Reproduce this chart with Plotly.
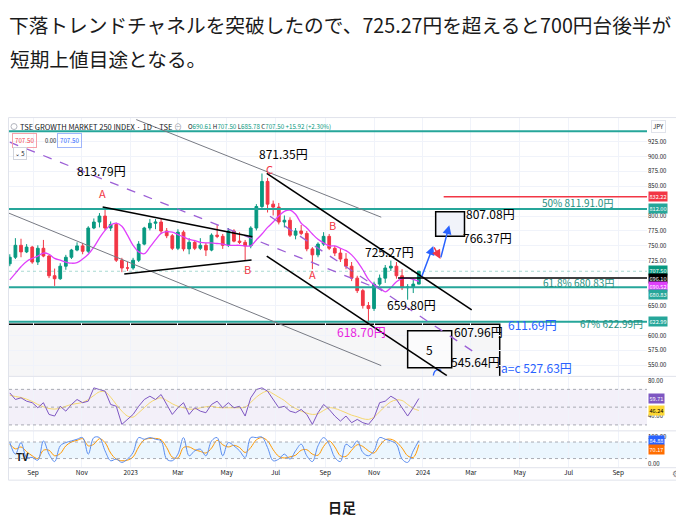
import pandas as pd
import plotly.graph_objects as go

# ---- データ (週足に要約した値) ----
dates = pd.date_range("2022-08-03", periods=74, freq="7D")

o = [720, 731, 751, 740, 748, 723, 746, 733, 700, 695, 716, 731, 743, 750, 741, 780, 790, 800, 780, 786,
     726, 713, 713, 726, 753, 780, 788, 790, 775, 767, 746, 773, 745, 756, 746, 751, 743, 768, 766, 751,
     775, 758, 756, 750, 780, 816, 858, 820, 815, 790, 793, 768, 775, 771, 745, 735, 753, 766, 746, 738,
     728, 716, 696, 675, 650, 645, 686, 696, 713, 716, 700, 680, 681, 686]
h = [736, 763, 762, 753, 750, 751, 760, 735, 712, 721, 735, 745, 756, 755, 783, 796, 805, 814, 791, 789,
     730, 723, 730, 758, 782, 795, 795, 795, 780, 770, 778, 776, 763, 760, 763, 755, 771, 785, 770, 780,
     778, 773, 760, 783, 820, 871.35, 864, 826, 822, 801, 798, 780, 785, 775, 748, 756, 773, 770, 750, 746,
     738, 723, 700, 678, 656, 690, 702, 718, 725.27, 723, 711, 686, 695, 707.5]
l = [716, 728, 731, 738, 720, 718, 731, 696, 683, 693, 710, 728, 741, 736, 738, 778, 781, 776, 775, 723,
     706, 708, 710, 723, 751, 776, 778, 770, 763, 743, 743, 741, 736, 743, 743, 733, 741, 763, 745, 748,
     756, 753, 725, 746, 776, 812, 806, 801, 786, 781, 765, 761, 768, 741, 711, 731, 750, 743, 733, 723,
     711, 691, 671, 645, 618.7, 641, 683, 688, 708, 695, 676, 659.8, 671, 685.78]
c = [731, 751, 740, 748, 723, 746, 733, 700, 695, 716, 731, 743, 750, 741, 780, 790, 800, 780, 786, 726,
     713, 713, 726, 753, 780, 788, 790, 775, 767, 746, 773, 745, 756, 746, 751, 743, 768, 766, 751, 775,
     758, 756, 750, 780, 816, 858, 820, 815, 790, 793, 768, 775, 771, 745, 735, 753, 766, 746, 738, 728,
     716, 696, 675, 650, 645, 686, 696, 713, 716, 700, 680, 681, 686, 707.5]

ma = [693, 704, 715, 724, 729, 733, 738, 736, 729, 726, 723, 721, 722, 728, 736, 748, 763, 776, 785, 788,
      783, 768, 751, 740, 737, 748, 760, 771, 774, 773, 769, 765, 761, 759, 756, 755, 755, 754, 753, 751,
      751, 751, 750, 750, 760, 770, 781, 790, 800, 808, 810, 803, 788, 780, 770, 761, 755, 750, 750, 746,
      742, 735, 724, 710, 694, 685, 680, 673, 680, 690, 695, 696, 694, 690.52]

rsi = [66, 58.6, 60.5, 56.7, 55, 49.3, 55, 41.8, 40, 51, 45.5, 53, 58.6, 55, 56.7, 71.7, 69.8, 68, 53, 51,
       30.6, 36.2, 41.8, 51, 58.6, 62.3, 58.6, 64.2, 53, 41.8, 49.3, 55, 41.8, 49.3, 45.5, 43.7, 53, 56.7,
       49.3, 55, 49.3, 51, 40, 60.5, 69.8, 71.7, 68, 58.6, 49.3, 51, 45.5, 43.7, 47.4, 41.8, 30.6, 43.7,
       53, 47.4, 40, 34.3, 40, 32.5, 36.2, 32.5, 30.6, 38.1, 55, 56.7, 62.3, 58.6, 49.3, 40, 49.3, 59.71]
rsi_ma = [63.4, 62, 60.9, 59, 56.4, 53, 50.4, 48.5, 47.8, 48.9, 51, 53, 54.1, 55.3, 58.6, 63.1, 67.2, 67.2,
          61.2, 53, 45.5, 40, 38.8, 43.7, 49.3, 55, 58.6, 60.5, 57.5, 53.8, 51, 49.3, 47.8, 47.8, 49.3, 50.4,
          51, 49.7, 49.3, 49.3, 49.3, 49.3, 50, 55.3, 61.2, 65.7, 68, 65, 61.2, 57.5, 52.2, 48.5, 45.5, 43.3,
          41.8, 42.6, 46.3, 49.3, 48.5, 46.3, 43.7, 41, 39.2, 37, 36.2, 38.8, 44.8, 51, 56, 58.2, 57.5, 53,
          48.5, 46.24]

stoch_k = [78, 36, 78, 24, 24, 14, 84, 36, 9, 66, 78, 84, 90, 96, 36, 96, 96, 48, 12, 18, 6, 18, 42, 96, 90,
           96, 90, 84, 18, 12, 36, 96, 30, 48, 54, 30, 84, 96, 30, 78, 66, 48, 24, 96, 96, 98, 60, 12, 18, 36,
           18, 48, 72, 30, 9, 66, 96, 72, 24, 9, 72, 60, 84, 42, 30, 48, 96, 90, 84, 72, 18, 6, 48, 84.88]
stoch_d = [72, 55, 62, 45, 30, 20, 50, 50, 30, 38, 66, 80, 86, 92, 66, 72, 92, 78, 40, 18, 12, 14, 26, 62, 88,
           93, 93, 88, 60, 25, 22, 60, 62, 52, 46, 40, 58, 86, 70, 62, 68, 60, 42, 60, 88, 96, 84, 52, 28, 22,
           26, 32, 50, 52, 36, 32, 64, 84, 62, 30, 28, 50, 70, 64, 48, 40, 66, 88, 90, 80, 58, 30, 24, 70.17]

# 水平線 (価格)
teal_levels = [942, 812, 680.83, 622.99]
last_price = 707.5

# 描画ライン (始点日付, 始点価格, 終点日付, 終点価格)
black_lines = [("2023-06-20", 871.6, "2024-03-02", 642.9),
               ("2023-06-20", 733.0, "2024-01-31", 532.7),
               ("2022-11-27", 815.3, "2023-06-02", 765.2),
               ("2022-12-24", 703.0, "2023-06-01", 726.4)]
grey_lines = [("2023-01-08", 961.7, "2023-11-10", 798.1),
              ("2022-08-02", 804.8, "2023-11-10", 549.4)]
dash_lines = [("2022-08-03", 923.8, "2023-11-05", 678.8),
              ("2023-06-24", 799.8, "2024-03-06", 571.1)]

arrow_x = ["2023-12-30", "2024-01-14", "2024-01-23", "2024-02-03"]
arrow_y = [696.7, 750, 728.2, 784.8]
arc_x = ["2024-01-14", "2024-01-16", "2024-01-21", "2024-01-24"]
arc_y = [532.7, 539.9, 542.7, 541]

month_ticks = ["2022-09-01", "2022-11-01", "2023-01-01", "2023-03-01", "2023-05-01", "2023-07-01",
               "2023-09-01", "2023-11-01", "2024-01-01", "2024-03-01", "2024-05-01", "2024-07-01",
               "2024-09-01"]
month_text = ["Sep", "Nov", "2023", "Mar", "May", "Jul", "Sep", "Nov", "2024", "Mar", "May", "Jul", "Sep"]
price_ticks = [550, 575, 600, 650, 725, 750, 775, 800, 850, 875, 900, 925]

GREEN = "#089981"
RED = "#f23645"
TEAL = "#26a69a"
BLUE = "#2962ff"
PURPLE = "#9c5fd6"
FONT = "Noto Sans CJK JP, Noto Sans, sans-serif"
# ページの余白 8px を差し引いた図のサイズ
OFF = 8
W, H = 684 - OFF, 521 - OFF


def py(p):
    # ページ上のピクセル(上から) -> paper座標
    return 1 - (p - OFF) / H


def px(p):
    return (p - OFF) / W


fig = go.Figure()
fig.add_trace(go.Candlestick(
    x=dates, open=o, high=h, low=l, close=c,
    increasing=dict(line=dict(color=GREEN, width=1), fillcolor=GREEN),
    decreasing=dict(line=dict(color=RED, width=1), fillcolor=RED),
    whiskerwidth=0, showlegend=False, xaxis="x", yaxis="y"))
fig.add_trace(go.Scatter(x=dates, y=ma, mode="lines", line=dict(color="#e040fb", width=1.3, shape="spline"),
                         showlegend=False, xaxis="x", yaxis="y"))
fig.add_trace(go.Scatter(x=arc_x, y=arc_y, mode="lines", line=dict(color=BLUE, width=1.3, shape="spline"),
                         showlegend=False, xaxis="x", yaxis="y"))
fig.add_trace(go.Scatter(x=dates, y=rsi_ma, mode="lines", line=dict(color="#f5d76e", width=1, shape="spline"),
                         showlegend=False, xaxis="x", yaxis="y2"))
fig.add_trace(go.Scatter(x=dates, y=rsi, mode="lines", line=dict(color="#7e57c2", width=1),
                         showlegend=False, xaxis="x", yaxis="y2"))
fig.add_trace(go.Scatter(x=dates, y=stoch_d, mode="lines", line=dict(color="#ff9800", width=1, shape="spline"),
                         showlegend=False, xaxis="x", yaxis="y3"))
fig.add_trace(go.Scatter(x=dates, y=stoch_k, mode="lines", line=dict(color="#5b8def", width=1, shape="spline"),
                         showlegend=False, xaxis="x", yaxis="y3"))

shapes = []
# グレーの領域 (618.70 以下)
shapes.append(dict(type="rect", xref="x", yref="y", x0="2022-07-01", x1="2024-04-06", y0=400, y1=618.7,
                   fillcolor="rgba(140,143,155,0.08)", line=dict(color="black", width=1.5), layer="below"))
for lv in teal_levels:
    shapes.append(dict(type="line", xref="x domain", yref="y", x0=0, x1=1, y0=lv, y1=lv,
                       line=dict(color=TEAL, width=2)))
shapes.append(dict(type="line", xref="x domain", yref="y", x0=0, x1=1, y0=last_price, y1=last_price,
                   line=dict(color="rgba(8,153,129,0.35)", width=1, dash="dot")))
shapes.append(dict(type="line", xref="x", yref="y", x0="2024-01-27", x1="2024-12-31", y0=832.22, y1=832.22,
                   line=dict(color=RED, width=1.5)))
shapes.append(dict(type="line", xref="x", yref="y", x0="2023-12-01", x1="2024-12-31", y0=696.1, y1=696.1,
                   line=dict(color="black", width=1.5)))
# ボックス
shapes.append(dict(type="rect", xref="x", yref="y", x0="2024-01-17", x1="2024-02-22", y0=766.37, y1=807.08,
                   fillcolor="rgba(240,242,250,0.9)", line=dict(color="black", width=1.5)))
shapes.append(dict(type="rect", xref="x", yref="y", x0="2023-12-13", x1="2024-02-06", y0=545.64, y1=607.96,
                   fillcolor="rgba(255,255,255,0.6)", line=dict(color="black", width=1.5)))
for x0, y0, x1, y1 in grey_lines:
    shapes.append(dict(type="line", xref="x", yref="y", x0=x0, y0=y0, x1=x1, y1=y1,
                       line=dict(color="#777a83", width=1)))
for x0, y0, x1, y1 in dash_lines:
    shapes.append(dict(type="line", xref="x", yref="y", x0=x0, y0=y0, x1=x1, y1=y1,
                       line=dict(color=PURPLE, width=1.3, dash="dash")))
for x0, y0, x1, y1 in black_lines:
    shapes.append(dict(type="line", xref="x", yref="y", x0=x0, y0=y0, x1=x1, y1=y1,
                       line=dict(color="black", width=1.6)))
# RSI / ストキャス帯
shapes.append(dict(type="rect", xref="x domain", yref="y2", x0=0, x1=1, y0=30, y1=70,
                   fillcolor="rgba(126,87,194,0.09)", line=dict(width=0), layer="below"))
for lv in [30, 50, 70]:
    shapes.append(dict(type="line", xref="x domain", yref="y2", x0=0, x1=1, y0=lv, y1=lv,
                       line=dict(color="#9598a1", width=0.8, dash="dot")))
shapes.append(dict(type="rect", xref="x domain", yref="y3", x0=0, x1=1, y0=20, y1=80,
                   fillcolor="rgba(33,150,243,0.09)", line=dict(width=0), layer="below"))
for lv in [20, 80]:
    shapes.append(dict(type="line", xref="x domain", yref="y3", x0=0, x1=1, y0=lv, y1=lv,
                       line=dict(color="#9598a1", width=0.8, dash="dot")))
# 枠・区切り
for yy in [376.8, 431.5, 468.5]:
    shapes.append(dict(type="line", xref="paper", yref="paper", x0=px(8), x1=1, y0=py(yy), y1=py(yy),
                       line=dict(color="#e0e3eb", width=1)))
shapes.append(dict(type="rect", xref="paper", yref="paper", x0=px(8.5), x1=1.01, y0=py(481), y1=py(117),
                   line=dict(color="#e0e3eb", width=1)))
shapes.append(dict(type="circle", xref="paper", yref="paper", x0=px(11), x1=px(17), y0=py(129), y1=py(123),
                   line=dict(color="#b2b5be", width=1)))

ann = []


def note(text, x, y, color="black", size=12, yref="y"):
    ann.append(dict(text=text, x=x, y=y, xref="x", yref=yref, showarrow=False, yanchor="middle",
                    font=dict(family=FONT, size=size, color=color)))


note("813.79円", "2022-11-26", 876.6)
note("871.35円", "2023-07-11", 905)
note("725.27円", "2023-11-20", 741.4)
note("659.80円", "2023-12-18", 651.2)
note("618.70円", "2023-10-16", 606, color="#e91ee0")
note("607.96円", "2024-03-10", 606)
note("545.64円", "2024-03-07", 556)
note("5", "2024-01-09", 576.8)
note("a=c 527.63円", "2024-05-22", 546.6, color=BLUE)
note("611.69円", "2024-05-17", 617.8, color=BLUE)
note("67% 622.99円", "2024-08-24", 619.8, color="#1f8f80", size=10)
note("807.08円", "2024-03-26", 804.8)
note("766.37円", "2024-03-22", 763.9)
note("50% 811.91.0円", "2024-07-12", 823.2, color="#1f8f80", size=10)
note("61.8% 680.83円", "2024-07-13", 688.6, color="#1f8f80", size=10)
for t, x, y in [("A", "2022-11-27", 838), ("B", "2023-05-27", 711), ("C", "2023-06-23", 879),
                ("B", "2023-09-10", 785), ("A", "2023-08-16", 703)]:
    note(t, x, y, color=RED, size=11)

# 矢印
for i, col in enumerate([BLUE, RED, BLUE]):
    ann.append(dict(x=arrow_x[i + 1], y=arrow_y[i + 1], ax=arrow_x[i], ay=arrow_y[i], xref="x", yref="y",
                    axref="x", ayref="y", text="", showarrow=True, arrowhead=2, arrowsize=1.2,
                    arrowwidth=1.5, arrowcolor=col))

# 右軸ラベル
axis_tags = [("832.22", 832.22, RED, "white", "y"), ("812.00", 813, TEAL, "white", "y"),
             ("707.50", 708.5, GREEN, "white", "y"), ("696.10", 695.3, "black", "white", "y"),
             ("690.52", 681.8, "#e040fb", "white", "y"), ("680.83", 668.2, TEAL, "white", "y"),
             ("622.99", 622.99, TEAL, "white", "y"),
             ("59.71", 59.71, "#7e57c2", "white", "y2"), ("46.24", 46.24, "#fdd835", "black", "y2"),
             ("84.88", 84.88, BLUE, "white", "y3"), ("70.17", 53, "#ff6d00", "white", "y3")]
for t, y, bg, fc, yr in axis_tags:
    ann.append(dict(text=t, x=px(648), y=y, xref="paper", yref=yr, xanchor="left", yanchor="middle",
                    showarrow=False, bgcolor=bg, borderpad=0.5, font=dict(family=FONT, size=5.6, color=fc)))


def ptext(text, x, y, size=8, color="#131722", anchor="left", yanchor="middle", **kw):
    ann.append(dict(text=text, x=px(x), y=py(y), xref="paper", yref="paper", xanchor=anchor,
                    yanchor=yanchor, showarrow=False, font=dict(family=FONT, size=size, color=color), **kw))


ptext("TSE GROWTH MARKET 250 INDEX · 1D · TSE", 18, 126, size=7.5)
ptext("⊖", 172, 126, size=8, color="#9598a1")
ptext("O<span style='color:#089981'>690.61</span> H<span style='color:#089981'>707.50</span> "
      "L<span style='color:#089981'>685.78</span> C<span style='color:#089981'>707.50</span> "
      "<span style='color:#089981'>+15.92 (+2.30%)</span>", 186, 126, size=6.2)
ptext("707.50", 12, 140.5, size=6.2, color=RED, bordercolor="#f7a1a9", borderpad=2, borderwidth=1)
ptext("0.00", 43, 140.5, size=5.8, color="#131722")
ptext("707.50", 57, 140.5, size=6.2, color=BLUE, bordercolor="#9fb5fb", borderpad=2, borderwidth=1)
ptext("⌄ 5", 13, 153.5, size=6, color="#131722", bordercolor="#d1d4dc", borderpad=1, borderwidth=1)
ptext("JPY", 651, 126, size=6, color="#131722", bordercolor="#e0e3eb", borderpad=1, borderwidth=1)
ptext("<b>TV</b>", 14, 457, size=10, color="#131722")
ptext("⚙", 670, 474, size=9, color="#787b86")

# 本文
ptext("下落トレンドチャネルを突破したので、725.27円を超えると700円台後半が", 8, 8, size=19.7,
      color="#1a1a1a", yanchor="top", borderpad=0)
ptext("短期上値目途となる。", 8, 58, size=19.7, color="#1a1a1a")
ptext("<b>日足</b>", 342, 508, size=14, color="#1a1a1a", anchor="center")

axis_font = dict(family=FONT, size=6, color="#131722")
fig.update_layout(
    width=W, height=H, margin=dict(l=0, r=0, t=0, b=0),
    paper_bgcolor="white", plot_bgcolor="white", showlegend=False,
    shapes=shapes, annotations=ann,
    xaxis=dict(domain=[px(9), px(647)], range=["2022-08-02", "2024-10-07"], anchor="y3",
               tickvals=month_ticks, ticktext=month_text, tickfont=dict(family=FONT, size=6.5, color="#131722"),
               showgrid=True, gridcolor="#f0f3fa", zeroline=False, showline=False, ticks="",
               rangeslider=dict(visible=False)),
    yaxis=dict(domain=[py(376.5), py(117)], range=[531.86, 965.07], side="right", anchor="x",
               tickvals=price_ticks, tickformat=".2f", tickfont=axis_font,
               showgrid=True, gridcolor="#f0f3fa", zeroline=False, ticks=""),
    yaxis2=dict(domain=[py(431), py(377)], range=[23.89, 84.4], side="right", anchor="x",
                tickvals=[40, 80], tickformat=".2f", tickfont=axis_font, showgrid=False,
                zeroline=False, ticks=""),
    yaxis3=dict(domain=[py(468), py(432)], range=[-11.43, 118.67], side="right", anchor="x",
                tickvals=[0, 100], tickformat=".2f", tickfont=axis_font, showgrid=False,
                zeroline=False, ticks=""),
)

fig.write_html("out.html")
